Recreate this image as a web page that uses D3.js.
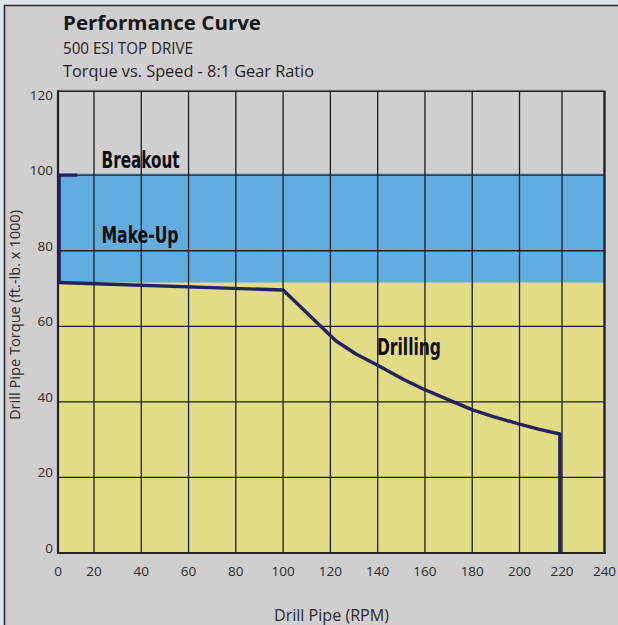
<!DOCTYPE html>
<html>
<head>
<meta charset="utf-8">
<script src="https://cdn.jsdelivr.net/npm/d3@7"></script>
<style>
  html, body { margin: 0; padding: 0; background: #dde7e9; }
  svg { display: block; }
</style>
</head>
<body>
<svg id="chart" width="618" height="625"></svg>
<script>
// ---- data ----
const xTicks = [0, 20, 40, 60, 80, 100, 120, 140, 160, 180, 200, 220, 240];
const yTicks = [0, 20, 40, 60, 80, 100, 120];
const xGrid = [20, 40, 60, 80, 100, 120, 140, 160, 180, 200, 220];
const yGrid = [20, 40, 60, 80, 100];

const makeUpMin = 71.6;   // top of drilling zone / bottom of make-up band
const makeUpMax = 100;    // breakout torque

// drilling curve (rpm, torque x1000)
const drillRpm    = [0, 100, 122.4, 131, 139.6, 150.8, 158.6, 172, 180.4, 188.9, 200, 209.4, 219, 219];
const drillTorque = [71.6, 69.6, 56.1, 52.6, 49.8, 46.0, 43.6, 40.0, 37.8, 36.1, 34.1, 32.7, 31.5, 0];

// breakout / make-up edge
const breakRpm    = [10, 0, 0];
const breakTorque = [100, 100, 71.6];

const zoneNames  = ["Breakout", "Make-Up", "Drilling"];
const zoneRpm    = [23.2, 23.2, 139.7];
const zoneTorque = [101.8, 82.1, 52.4];

const titleText = "Performance Curve";
const subtitle1 = "500 ESI TOP DRIVE";
const subtitle2 = "Torque vs. Speed - 8:1 Gear Ratio";
const xTitle = "Drill Pipe (RPM)";
const yTitle = "Drill Pipe Torque (ft.-lb. x 1000)";

// ---- drawing ----
const svg = d3.select("#chart");
const FONT = "'Open Sans', 'Noto Sans', sans-serif";
const COND = "'DejaVu Sans Condensed', 'Liberation Sans Narrow', 'Open Sans', sans-serif";

// scales (original chart's first interval is narrower)
const x = d3.scaleLinear().domain([0, 20, 200, 240]).range([58, 94, 519.5, 604.5]);
const y = d3.scaleLinear().domain([0, 120]).range([553, 99.6]);
const yPlotTop = 122.2;

// page background + frame
svg.append("rect").attr("x", 4.5).attr("y", 5.5).attr("width", 640).attr("height", 640)
  .attr("fill", "#d0cecf").attr("stroke", "#2a2a2a").attr("stroke-width", 1.6);

const x0 = x(0), x1 = x(240), yb = y(0), yt = y(yPlotTop);

// zones
svg.append("rect").attr("x", x0).attr("y", y(makeUpMin)).attr("width", x1 - x0)
  .attr("height", yb - y(makeUpMin)).attr("fill", "#e2dc86");
svg.append("rect").attr("x", x0).attr("y", y(makeUpMax)).attr("width", x1 - x0)
  .attr("height", y(makeUpMin) - y(makeUpMax)).attr("fill", "#62addf");
svg.append("line").attr("x1", x0).attr("x2", x1).attr("y1", y(makeUpMax) - 1).attr("y2", y(makeUpMax) - 1)
  .attr("stroke", "#3e9ad8").attr("stroke-width", 1);

// grid
const g = svg.append("g").attr("stroke", "#1c1c1c").attr("stroke-width", 1.3);
g.selectAll(".vg").data(xGrid).join("line")
  .attr("x1", d => x(d)).attr("x2", d => x(d)).attr("y1", yt).attr("y2", yb);
g.selectAll(".hg").data(yGrid).join("line")
  .attr("x1", x0).attr("x2", x1).attr("y1", d => y(d)).attr("y2", d => y(d));

// plot border
svg.append("line").attr("x1", x0).attr("x2", x1).attr("y1", yt - 1.2).attr("y2", yt - 1.2)
  .attr("stroke", "#a9a9a9").attr("stroke-width", 1);
svg.append("line").attr("x1", x0 - 1).attr("x2", x1 + 1).attr("y1", yt).attr("y2", yt)
  .attr("stroke", "#232323").attr("stroke-width", 1.6);
svg.append("line").attr("x1", x1).attr("x2", x1).attr("y1", yt).attr("y2", yb + 1)
  .attr("stroke", "#232323").attr("stroke-width", 2.4);
svg.append("line").attr("x1", x0).attr("x2", x0).attr("y1", yt - 0.8).attr("y2", yb + 1)
  .attr("stroke", "#232323").attr("stroke-width", 2.2);
svg.append("line").attr("x1", x0 - 1).attr("x2", x1 + 1).attr("y1", yb).attr("y2", yb)
  .attr("stroke", "#232323").attr("stroke-width", 2.2);

// curves
const line = d3.line().x(d => x(d[0])).y(d => y(d[1]));
svg.append("path").datum(breakRpm.map((r, i) => [r, breakTorque[i]]))
  .attr("d", line).attr("fill", "none").attr("stroke", "#24225e").attr("stroke-width", 3.2)
  .attr("transform", "translate(1.2,0)");
svg.append("path").datum(drillRpm.map((r, i) => [r, drillTorque[i]]))
  .attr("d", line).attr("fill", "none").attr("stroke", "#24225e").attr("stroke-width", 3.4)
  .attr("stroke-linejoin", "round");

// tick labels
svg.selectAll(".xt").data(xTicks).join("text")
  .attr("x", d => x(d)).attr("y", 575.5).attr("text-anchor", "middle")
  .attr("font-family", FONT).attr("font-size", 13.5).attr("fill", "#2b2b2b").text(d => d);
svg.selectAll(".yt").data(yTicks).join("text")
  .attr("x", 53).attr("y", d => y(d)).attr("text-anchor", "end")
  .attr("font-family", FONT).attr("font-size", 13.5).attr("fill", "#2b2b2b").text(d => d);

// titles
svg.append("text").attr("x", 63).attr("y", 29.5).attr("font-family", FONT).attr("font-weight", 700)
  .attr("font-size", 20).attr("fill", "#161616").attr("textLength", 198).attr("lengthAdjust", "spacingAndGlyphs")
  .text(titleText);
svg.append("text").attr("x", 63).attr("y", 54).attr("font-family", FONT)
  .attr("font-size", 15.6).attr("fill", "#1f1f1f").attr("textLength", 130).attr("lengthAdjust", "spacingAndGlyphs")
  .text(subtitle1);
svg.append("text").attr("x", 63).attr("y", 77.3).attr("font-family", FONT)
  .attr("font-size", 15.8).attr("fill", "#1f1f1f").attr("textLength", 251).attr("lengthAdjust", "spacingAndGlyphs")
  .text(subtitle2);

svg.append("text").attr("x", 331.5).attr("y", 620.5).attr("text-anchor", "middle").attr("font-family", FONT)
  .attr("font-size", 15.6).attr("fill", "#2b2b2b").attr("textLength", 115).attr("lengthAdjust", "spacingAndGlyphs")
  .text(xTitle);
svg.append("text").attr("transform", "translate(20,315) rotate(-90)").attr("text-anchor", "middle")
  .attr("font-family", FONT).attr("font-size", 14).attr("fill", "#2b2b2b")
  .attr("textLength", 210).attr("lengthAdjust", "spacingAndGlyphs")
  .text(yTitle);

// zone labels
const zoneWidths = [78, 77, 64];
svg.selectAll(".zone").data(zoneNames).join("text")
  .attr("x", (d, i) => x(zoneRpm[i])).attr("y", (d, i) => y(zoneTorque[i]))
  .attr("font-family", COND).attr("font-weight", 700).attr("font-size", 22.5).attr("fill", "#0c0c0c")
  .attr("textLength", (d, i) => zoneWidths[i]).attr("lengthAdjust", "spacingAndGlyphs")
  .text(d => d);
</script>
</body>
</html>
